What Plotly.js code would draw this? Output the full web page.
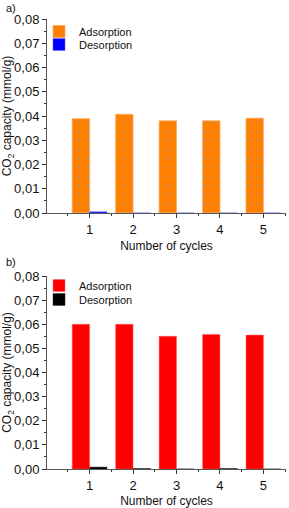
<!DOCTYPE html>
<html>
<head>
<meta charset="utf-8">
<script src="https://cdn.plot.ly/plotly-3.0.1.min.js"></script>
<style>html,body{margin:0;padding:0;background:#fff}#chart{width:289px;height:508px}</style>
</head>
<body>
<div id="chart"></div>
<script>
const cycles = [1, 2, 3, 4, 5];
const adsorptionA = [0.0389, 0.0407, 0.0380, 0.0380, 0.0391];
const desorptionA = [0.0005, 0.0000, 0.0000, 0.0000, 0.0000];
const adsorptionB = [0.0600, 0.0600, 0.0550, 0.0558, 0.0555];
const desorptionB = [0.0008, 0.0002, 0.0000, 0.0002, 0.0000];
const seriesNames = ['Adsorption', 'Desorption'];
const panelLabels = ['a)', 'b)'];
const xTitle = 'Number of cycles';
const yTitle = 'CO<sub>2</sub> capacity (mmol/g)';

const FONT = 'Liberation Sans, Arial, sans-serif';
const xDom = [47/289, 286/289];
const yDomA = [1 - 213/508, 1 - 19/508];
const yDomB = [1 - 469/508, 1 - 276/508];

const traces = [
  {type:'bar', x:cycles, y:adsorptionA, name:seriesNames[0], xaxis:'x', yaxis:'y', legend:'legend',
   marker:{color:'#ff8000', line:{color:'#ffa860', width:0.8},
           pattern:{shape:'.', fillmode:'overlay', fgcolor:'#8a9ab0', size:9, solidity:0.06}}},
  {type:'bar', x:cycles, y:desorptionA, name:seriesNames[1], xaxis:'x', yaxis:'y', legend:'legend3',
   marker:{color:'#0000ff', line:{color:'#6060ff', width:0.5}}},
  {type:'bar', x:cycles, y:adsorptionB, name:seriesNames[0], xaxis:'x2', yaxis:'y2', legend:'legend2',
   marker:{color:'#ff0000', line:{color:'#ff6060', width:0.5}}},
  {type:'bar', x:cycles, y:desorptionB, name:seriesNames[1], xaxis:'x2', yaxis:'y2', legend:'legend4',
   marker:{color:'#000000', line:{color:'#333', width:0.5}}}
];

function xax(anchor){
  return {domain:xDom, anchor:anchor, range:[0.02, 5.52], tickmode:'linear', tick0:0, dtick:1,
    ticks:'outside', ticklen:4, tickwidth:1, tickcolor:'#333', showline:true, linecolor:'#555', linewidth:1,
    showgrid:false, zeroline:false, tickfont:{family:FONT, size:13, color:'#111'},
    minor:{tickmode:'linear', tick0:0.5, dtick:1, ticklen:2, tickcolor:'#333', ticks:'outside'},
    title:{text:xTitle, font:{family:FONT, size:12, color:'#111'}, standoff:6}, fixedrange:true};
}
function yax(anchor, dom){
  return {domain:dom, anchor:anchor, range:[0, 0.08], tickmode:'linear', tick0:0, dtick:0.01, tickformat:'.2f',
    ticks:'outside', ticklen:4, tickwidth:1, tickcolor:'#333', showline:true, linecolor:'#555', linewidth:1,
    showgrid:false, zeroline:false, tickfont:{family:FONT, size:13, color:'#111'},
    minor:{tickmode:'linear', tick0:0.005, dtick:0.01, ticklen:2, tickcolor:'#333', ticks:'outside'},
    title:{text:yTitle, font:{family:FONT, size:12, color:'#111'}, standoff:6}, fixedrange:true};
}
function xTop(ov, anchor){
  return {domain:xDom, overlaying:ov, anchor:anchor, side:'top', range:[0.02, 5.52], tickmode:'linear', tick0:0, dtick:1,
    ticks:'inside', ticklen:3, tickcolor:'#444', showticklabels:false, showline:true, linecolor:'#999', linewidth:1,
    showgrid:false, zeroline:false, minor:{tickmode:'linear', tick0:0.5, dtick:1, ticklen:2, ticks:'inside', tickcolor:'#666'}};
}
function yRight(ov, anchor, dom){
  return {domain:dom, overlaying:ov, anchor:anchor, side:'right', range:[0, 0.08], tickmode:'linear', tick0:0, dtick:0.01,
    ticks:'inside', ticklen:3, tickcolor:'#444', showticklabels:false, showline:true, linecolor:'#999', linewidth:1,
    showgrid:false, zeroline:false, minor:{tickmode:'linear', tick0:0.005, dtick:0.01, ticklen:2, ticks:'inside', tickcolor:'#666'}};
}

const legendBase = {font:{family:FONT, size:11, color:'#111'}, bgcolor:'rgba(0,0,0,0)', borderwidth:0,
  xanchor:'left', yanchor:'top', itemwidth:30, tracegroupgap:0, traceorder:'normal'};
const LX = 39/289;

const layout = {
  width:289, height:508, margin:{l:0, r:0, t:0, b:0}, paper_bgcolor:'#fff', plot_bgcolor:'#fff',
  separators:',.', barmode:'group', bargap:0.2, bargroupgap:0, showlegend:true,
  font:{family:FONT, size:12, color:'#111'},
  xaxis:xax('y'), yaxis:yax('x', yDomA),
  xaxis2:xax('y2'), yaxis2:yax('x2', yDomB),
  xaxis3:xTop('x', 'y'), yaxis3:yRight('y', 'x', yDomA),
  xaxis4:xTop('x2', 'y2'), yaxis4:yRight('y2', 'x2', yDomB),
  legend:Object.assign({}, legendBase, {x:LX, y:1 - 17/508}),
  legend3:Object.assign({}, legendBase, {x:LX, y:1 - 30/508}),
  legend2:Object.assign({}, legendBase, {x:LX, y:1 - 271/508}),
  legend4:Object.assign({}, legendBase, {x:LX, y:1 - 285/508}),
  annotations:[
    {text:panelLabels[0], xref:'paper', yref:'paper', x:4/289, y:1 - 0/508, xanchor:'left', yanchor:'top', showarrow:false, font:{family:FONT, size:11, color:'#111'}},
    {text:panelLabels[1], xref:'paper', yref:'paper', x:4/289, y:1 - 254/508, xanchor:'left', yanchor:'top', showarrow:false, font:{family:FONT, size:11, color:'#111'}}
  ]
};

Plotly.newPlot('chart', traces, layout, {displayModeBar:false, staticPlot:true});
</script>
</body>
</html>
